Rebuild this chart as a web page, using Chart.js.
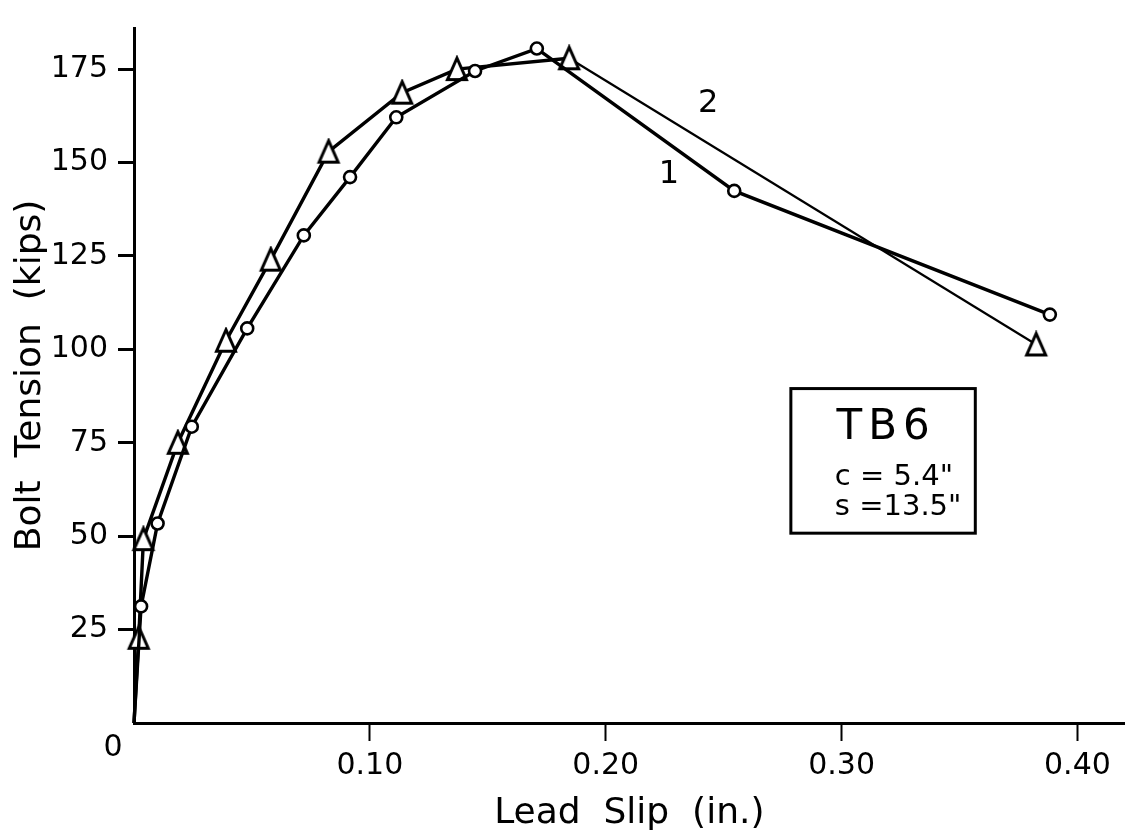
<!DOCTYPE html>
<html>
<head>
<meta charset="utf-8">
<script src="https://cdn.jsdelivr.net/npm/chart.js@4.4.1/dist/chart.umd.min.js"></script>
<style>
  body { margin: 0; background: #fff; }
  canvas { display: block; }
</style>
</head>
<body>
<canvas id="slipChart" width="1137" height="835"></canvas>
<script>
// =======================================
// DATA
// =======================================

// curve 1 (circles)
const slip1 = [0, 0.003, 0.010, 0.0245, 0.048, 0.072, 0.0916, 0.1112, 0.1446, 0.1708, 0.2545, 0.3883];
const tension1 = [0, 31.2, 53.4, 79.3, 105.6, 130.5, 146.1, 162.1, 174.5, 180.5, 142.4, 109.3];

// curve 2 (triangles)
const slip2 = [0, 0.002, 0.004, 0.0186, 0.039, 0.058, 0.0825, 0.1137, 0.1369, 0.1845, 0.3825];
const tension2 = [0, 22.8, 49.2, 75, 102.3, 124, 152.9, 168.7, 175, 177.9, 101.3];

const xTicks = [0.10, 0.20, 0.30, 0.40];
const yTicks = [25, 50, 75, 100, 125, 150, 175];

const FONT = "DejaVu Sans";

// open triangle marker, a bit taller than equilateral like the drafted one
function triangleMarker() {
    const c = document.createElement("canvas");
    c.width = 26;
    c.height = 28;
    const g = c.getContext("2d");
    g.beginPath();
    g.moveTo(13, 3);
    g.lineTo(3.5, 24.5);
    g.lineTo(22.5, 24.5);
    g.closePath();
    g.fillStyle = "#fff";
    g.fill();
    g.lineWidth = 3;
    g.strokeStyle = "#000";
    g.stroke();
    return c;
}

function toPoints(xs, ys) {
    return xs.map((v, i) => ({ x: v, y: ys[i] }));
}

// =======================================
// TEXT INSIDE THE PLOT (0, curve numbers, specimen box)
// =======================================

const annotations = {
    id: "annotations",
    afterDraw(chart) {
        const { ctx } = chart;
        const x = chart.scales.x;
        const y = chart.scales.y;
        const ox = x.getPixelForValue(0);
        const oy = y.getPixelForValue(0);

        ctx.save();
        ctx.fillStyle = "#000";
        ctx.strokeStyle = "#000";
        ctx.textAlign = "center";
        ctx.textBaseline = "middle";

        ctx.font = "30px '" + FONT + "'";
        ctx.fillText("0", ox - 21, oy + 25);

        ctx.font = "32px '" + FONT + "'";
        ctx.fillText("1", x.getPixelForValue(0.2268), y.getPixelForValue(146.8));
        ctx.fillText("2", x.getPixelForValue(0.2434), y.getPixelForValue(165.8));

        // specimen box
        const bx0 = x.getPixelForValue(0.2785);
        const bx1 = x.getPixelForValue(0.3567);
        const by0 = y.getPixelForValue(89.5);
        const by1 = y.getPixelForValue(50.8);
        ctx.lineWidth = 3;
        ctx.strokeRect(bx0, by0, bx1 - bx0, by1 - by0);

        const cx = (bx0 + bx1) / 2;
        ctx.font = "42px '" + FONT + "'";
        ctx.letterSpacing = "6px";
        ctx.fillText("TB6", cx + 3, by0 + 40);

        ctx.textAlign = "left";
        ctx.font = "29px '" + FONT + "'";
        ctx.letterSpacing = "0px";
        ctx.fillText('c = 5.4"', bx0 + 44, by0 + 89);
        ctx.fillText('s =13.5"', bx0 + 44, by0 + 119);
        ctx.restore();
    }
};

// =======================================
// CHART
// =======================================

const slipChart = new Chart(
document.getElementById("slipChart"),
{
    type: "line",

    data: {
        datasets: [
            {
                label: "1",
                data: toPoints(slip1, tension1),
                borderColor: "#000",
                borderWidth: 3.4,
                pointStyle: "circle",
                pointRadius: ctx => ctx.dataIndex === 0 ? 0 : 6,
                pointBorderWidth: 2.6,
                pointBorderColor: "#000",
                pointBackgroundColor: "#fff",
                tension: 0,
                clip: false
            },
            {
                label: "2",
                data: toPoints(slip2, tension2),
                borderColor: "#000",
                borderWidth: 3.4,
                segment: {
                    borderWidth: ctx => ctx.p0DataIndex === slip2.length - 2 ? 2.2 : 3.4
                },
                pointStyle: triangleMarker(),
                pointRadius: ctx => ctx.dataIndex === 0 ? 0 : 9,
                tension: 0,
                clip: false
            }
        ]
    },

    options: {
        responsive: false,
        animation: false,
        devicePixelRatio: 1,
        layout: {
            padding: { top: 12, right: 9, left: 0, bottom: 0 }
        },
        plugins: {
            legend: { display: false },
            tooltip: { enabled: false }
        },
        scales: {
            x: {
                type: "linear",
                min: 0,
                max: 0.42,
                afterFit: s => { s.height = 112; },
                afterBuildTicks: s => { s.ticks = xTicks.map(v => ({ value: v })); },
                border: { display: true, color: "#000", width: 3 },
                grid: {
                    drawOnChartArea: false,
                    drawTicks: true,
                    tickLength: 18,
                    tickWidth: 2,
                    tickColor: "#000"
                },
                ticks: {
                    autoSkip: false,
                    maxRotation: 0,
                    padding: 7,
                    color: "#000",
                    font: { family: FONT, size: 30 },
                    callback: v => Number(v).toFixed(2)
                },
                title: {
                    display: true,
                    text: "Lead  Slip  (in.)",
                    color: "#000",
                    font: { family: FONT, size: 36 },
                    padding: { top: 0, bottom: 0 }
                }
            },
            y: {
                type: "linear",
                min: 0,
                max: 186,
                afterFit: s => { s.width = 134; },
                afterBuildTicks: s => { s.ticks = yTicks.map(v => ({ value: v })); },
                border: { display: true, color: "#000", width: 3 },
                grid: {
                    drawOnChartArea: false,
                    drawTicks: true,
                    tickLength: 16,
                    tickWidth: 3,
                    tickColor: "#000"
                },
                ticks: {
                    autoSkip: false,
                    padding: 10,
                    color: "#000",
                    font: { family: FONT, size: 30 }
                },
                title: {
                    display: true,
                    text: "Bolt  Tension  (kips)",
                    color: "#000",
                    font: { family: FONT, size: 36 },
                    padding: { top: 9, bottom: 0 }
                }
            }
        }
    },

    plugins: [annotations]
});
</script>
</body>
</html>
